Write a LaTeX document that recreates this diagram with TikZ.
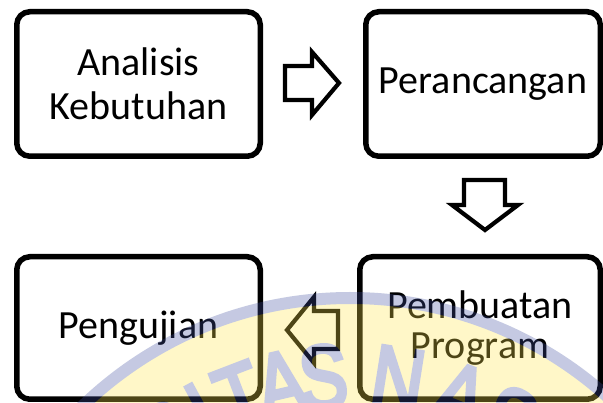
\documentclass[tikz,border=0pt]{standalone}
\usepackage{fontspec}
\setmainfont{Carlito}
\newfontfamily\markfont[FakeBold=5]{Liberation Sans}
\definecolor{wmyellow}{HTML}{FFE54A}
\definecolor{wmblue}{HTML}{3F4FA0}
\newcommand\sealchar[1]{\scalebox{0.8}[1]{#1}}
\begin{document}
\begin{tikzpicture}[x=1pt,y=-1pt,
  stage/.style={draw=black, line width=5.5pt, rounded corners=13pt, fill=white,
    align=center, inner sep=0pt},
  flowarrow/.style={draw=black, line width=4.2pt, fill=white, miter limit=10},
  wmletter/.style={text=wmblue, anchor=base, inner sep=0pt,
    font=\markfont\fontsize{90}{90}\selectfont}]
\fill[white] (0,0) rectangle (603,403);
\useasboundingbox (0,0) rectangle (603,403);

% process stages
\node[stage, minimum width=243.5pt, minimum height=144.5pt,
  font=\fontsize{40}{44}\selectfont] (analisis) at (138.5,84) {Analisis\\Kebutuhan};
\node[stage, minimum width=234.5pt, minimum height=144.5pt,
  font=\fontsize{40}{44}\selectfont] (rancang) at (483,84) {Perancangan};
\node[stage, minimum width=240.5pt, minimum height=142.5pt,
  font=\fontsize{40}{40}\selectfont] (buat) at (480,328) {Pembuatan\\Program};
\node[stage, minimum width=243.5pt, minimum height=142.5pt,
  font=\fontsize{40}{44}\selectfont] (uji) at (138.5,328) {Pengujian};

% block arrows between the stages
\draw[flowarrow] (285,66) -- (312,66) -- (312,52) -- (339,83) -- (312,115)
  -- (312,100) -- (285,100) -- cycle;
\draw[flowarrow] (464,180) -- (505,180) -- (505,205) -- (518,205) -- (485,230)
  -- (452,205) -- (464,205) -- cycle;
\draw[flowarrow] (338,311) -- (314,311) -- (314,297) -- (287,330) -- (314,363)
  -- (314,349) -- (338,349) -- cycle;

% faint university seal printed over the page
\begin{scope}[transparency group, opacity=0.3]
  \clip (0,0) rectangle (603,403);
  \fill[wmyellow] (350,683) circle[radius=380];
  \draw[wmblue, line width=12pt] (350,683) circle[radius=385];
  \foreach \ch/\ang in {S/-36, I/-28.5, T/-21, A/-13, S/-5,
      N/9, A/21, S/31}
    \node[wmletter, rotate=-\ang] at ({350+276*sin(\ang)},{683-276*cos(\ang)}) {\sealchar{\ch}};
\end{scope}
\end{tikzpicture}
\end{document}
